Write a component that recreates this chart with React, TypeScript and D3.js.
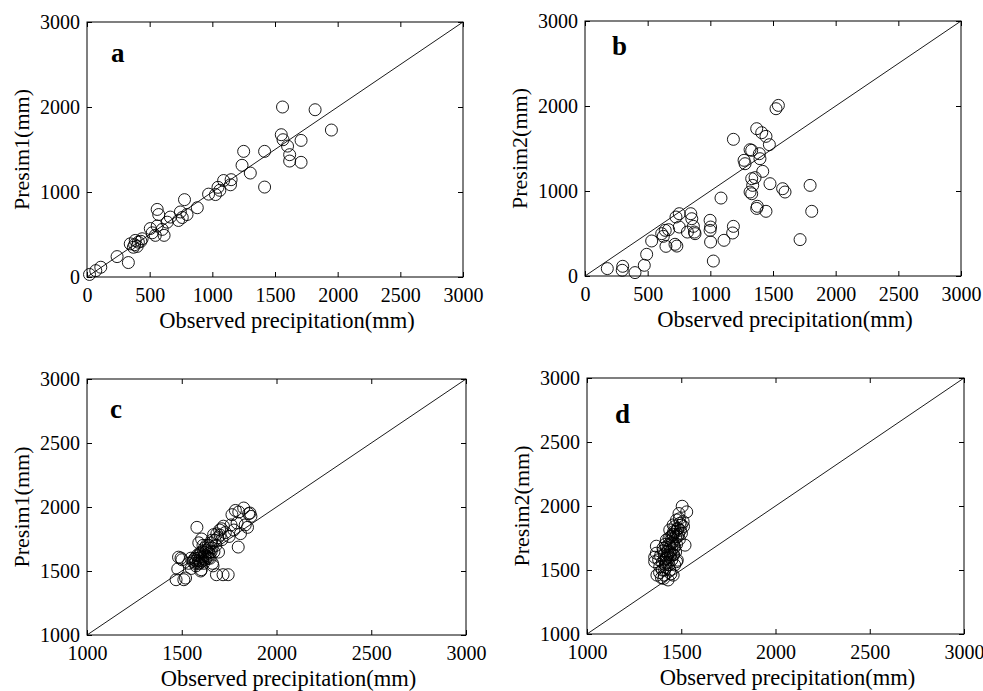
import React, { useEffect, useRef } from 'react';
import * as d3 from 'd3';

// tick values
const ticksAB = [0, 500, 1000, 1500, 2000, 2500, 3000];
const yTicksAB = [0, 1000, 2000, 3000];
const ticksCD = [1000, 1500, 2000, 2500, 3000];

// panel a: observed vs Presim1
const obsA = [20, 70, 110, 240, 330, 345, 370, 385, 410, 440, 380, 400, 430, 505, 520, 545, 560, 615, 560, 572,
  600, 640, 665, 730, 745, 760, 778, 798, 880, 970, 1025, 1045, 1060, 1090, 1150, 1145, 1237, 1250, 1303, 1417,
  1417, 1550, 1564, 1560, 1600, 1617, 1617, 1708, 1708, 1820, 1950];
const simA = [30, 75, 115, 240, 170, 390, 350, 430, 410, 450, 380, 360, 420, 570, 520, 490, 600, 490, 795, 735,
  560, 645, 705, 665, 765, 700, 910, 735, 815, 975, 970, 1055, 1020, 1135, 1145, 1085, 1314, 1478, 1223, 1478,
  1058, 1674, 1615, 2000, 1540, 1439, 1364, 1607, 1349, 1968, 1729];

// panel b: observed vs Presim2
const obsB = [178, 301, 297, 399, 473, 492, 532, 612, 625, 646, 640, 667, 718, 733, 726, 752, 752, 817, 852, 844,
  865, 878, 873, 998, 1002, 998, 1002, 1024, 1085, 1109, 1178, 1184, 1184, 1269, 1277, 1317, 1330, 1391, 1396, 1418,
  1330, 1357, 1338, 1317, 1330, 1476, 1577, 1596, 1796, 1809, 1375, 1370, 1444, 1716, 1370, 1410, 1444, 1471, 1524, 1543];
const simB = [87, 114, 67, 40, 126, 255, 412, 498, 467, 349, 537, 545, 373, 352, 694, 733, 576, 517, 674, 733,
  584, 498, 517, 655, 576, 537, 400, 176, 917, 420, 506, 584, 1608, 1361, 1321, 1486, 1478, 1439, 1380, 1231,
  1145, 1157, 1066, 988, 968, 1086, 1027, 988, 1066, 761, 820, 795, 761, 428, 1733, 1686, 1643, 1545, 1968, 2007];

// panel c: observed vs Presim1
const obsC = [1470, 1479, 1496, 1511, 1520, 1483, 1501, 1536, 1550, 1560, 1570, 1575, 1580, 1590, 1595, 1600, 1603, 1605, 1610, 1612,
  1615, 1620, 1625, 1630, 1635, 1640, 1645, 1650, 1655, 1660, 1662, 1665, 1668, 1670, 1675, 1680, 1683, 1690, 1694, 1700,
  1703, 1712, 1718, 1720, 1730, 1745, 1750, 1760, 1765, 1775, 1783, 1792, 1798, 1801, 1810, 1827, 1835, 1847, 1853, 1860,
  1865, 1585, 1575, 1600, 1620, 1640, 1658, 1685, 1710, 1548, 1590, 1605,
  1565, 1580, 1595, 1610, 1625, 1630, 1645, 1600, 1615, 1585, 1640, 1655, 1570, 1590];
const simC = [1432, 1516, 1601, 1432, 1445, 1608, 1588, 1560, 1520, 1575, 1600, 1540, 1841, 1620, 1560, 1500, 1510, 1650, 1600, 1700,
  1560, 1630, 1590, 1660, 1610, 1700, 1640, 1600, 1720, 1680, 1560, 1540, 1784, 1650, 1740, 1700, 1471, 1760, 1648, 1820,
  1780, 1745, 1471, 1850, 1800, 1471, 1770, 1860, 1940, 1820, 1973, 1875, 1687, 1961, 1792, 1992, 1860, 1841, 1948, 1953,
  1927, 1600, 1580, 1570, 1680, 1650, 1740, 1790, 1830, 1600, 1720, 1750,
  1590, 1620, 1640, 1580, 1620, 1700, 1680, 1610, 1650, 1560, 1600, 1650, 1560, 1580];

// panel d: observed vs Presim2
const obsD = [1368, 1371, 1407, 1430, 1457, 1395, 1386, 1359, 1368, 1359, 1403, 1421, 1520, 1505, 1529, 1488, 1479, 1475, 1493, 1510,
  1457, 1439, 1501, 1448, 1457, 1483, 1466, 1430, 1457, 1421, 1412, 1439, 1475, 1380, 1390, 1400, 1410, 1415, 1420, 1425,
  1430, 1435, 1440, 1445, 1450, 1455, 1460, 1465, 1470, 1475, 1480, 1485, 1490, 1495, 1500, 1400, 1385, 1410, 1445, 1465,
  1420, 1440, 1450, 1460, 1470, 1405, 1415, 1435, 1490, 1512,
  1420, 1430, 1440, 1450, 1460, 1470, 1410, 1425, 1435, 1445, 1455, 1480];
const simD = [1686, 1460, 1434, 1422, 1460, 1440, 1526, 1565, 1631, 1600, 1670, 1735, 1694, 1998, 1954, 1941, 1577, 1891, 1865, 1878,
  1852, 1813, 1787, 1708, 1774, 1826, 1839, 1650, 1617, 1591, 1500, 1500, 1565, 1580, 1610, 1560, 1620, 1540, 1680, 1600,
  1560, 1700, 1640, 1760, 1580, 1720, 1800, 1680, 1760, 1700, 1820, 1780, 1740, 1810, 1850, 1500, 1480, 1460, 1470, 1540,
  1520, 1600, 1660, 1620, 1640, 1650, 1700, 1750, 1900, 1840,
  1560, 1620, 1680, 1740, 1700, 1800, 1580, 1640, 1540, 1620, 1780, 1760];

const panels = [
  { letter: 'a', left: 87, top: 22, width: 376, height: 255, min: 0, xTicks: ticksAB, yTicks: yTicksAB, ylabel: 'Presim1(mm)', obs: obsA, sim: simA, lx: 24, ly: 40 },
  { letter: 'b', left: 585, top: 21, width: 376, height: 255, min: 0, xTicks: ticksAB, yTicks: yTicksAB, ylabel: 'Presim2(mm)', obs: obsB, sim: simB, lx: 27, ly: 34 },
  { letter: 'c', left: 87, top: 379, width: 379, height: 256, min: 1000, xTicks: ticksCD, yTicks: ticksCD, ylabel: 'Presim1(mm)', obs: obsC, sim: simC, lx: 23, ly: 39 },
  { letter: 'd', left: 587, top: 378, width: 377, height: 256, min: 1000, xTicks: ticksCD, yTicks: ticksCD, ylabel: 'Presim2(mm)', obs: obsD, sim: simD, lx: 28, ly: 45 },
];

const FONT = '"Liberation Serif", "Times New Roman", serif';

export default function App() {
  const ref = useRef<SVGSVGElement | null>(null);

  useEffect(() => {
    const root = d3.select(ref.current);
    root.selectAll('*').remove();

    panels.forEach(p => {
      const g = root.append('g').attr('transform', `translate(${p.left},${p.top})`);
      const x = d3.scaleLinear().domain([p.min, 3000]).range([0, p.width]);
      const y = d3.scaleLinear().domain([p.min, 3000]).range([p.height, 0]);

      // 1:1 line
      g.append('line')
        .attr('x1', x(p.min)).attr('y1', y(p.min))
        .attr('x2', x(3000)).attr('y2', y(3000))
        .attr('stroke', '#000').attr('stroke-width', 0.9);

      // points
      g.selectAll('circle.pt')
        .data(p.obs.map((o, i) => [o, p.sim[i]]))
        .enter().append('circle')
        .attr('class', 'pt')
        .attr('cx', d => x(d[0]))
        .attr('cy', d => y(d[1]))
        .attr('r', 6)
        .attr('fill', 'none')
        .attr('stroke', '#000')
        .attr('stroke-width', 0.9);

      const bottom = g.append('g').attr('transform', `translate(0,${p.height})`)
        .call(d3.axisBottom(x).tickValues(p.xTicks).tickSizeInner(-5).tickSizeOuter(0).tickPadding(11).tickFormat(d3.format('d')));
      const left = g.append('g')
        .call(d3.axisLeft(y).tickValues(p.yTicks).tickSizeInner(-5).tickSizeOuter(0).tickPadding(7).tickFormat(d3.format('d')));
      g.append('g')
        .call(d3.axisTop(x).tickValues(p.xTicks).tickSizeInner(-5).tickSizeOuter(0).tickFormat(() => ''));
      g.append('g').attr('transform', `translate(${p.width},0)`)
        .call(d3.axisRight(y).tickValues(p.yTicks).tickSizeInner(-5).tickSizeOuter(0).tickFormat(() => ''));

      [bottom, left].forEach(a => a.selectAll('text')
        .style('font-family', FONT).style('font-size', '20px').attr('fill', '#000'));
      g.selectAll('.domain').remove();

      g.append('rect')
        .attr('width', p.width).attr('height', p.height)
        .attr('fill', 'none').attr('stroke', '#000').attr('stroke-width', 1);

      g.append('text')
        .attr('x', p.lx).attr('y', p.ly)
        .style('font-family', FONT).style('font-size', '27px').style('font-weight', 'bold')
        .text(p.letter);

      g.append('text')
        .attr('x', p.width / 2 + 12).attr('y', p.height + 51)
        .attr('text-anchor', 'middle')
        .style('font-family', FONT).style('font-size', '22.5px')
        .text('Observed precipitation(mm)');

      g.append('text')
        .attr('transform', `translate(-58,${p.height / 2}) rotate(-90)`)
        .attr('text-anchor', 'middle')
        .style('font-family', FONT).style('font-size', '22px')
        .text(p.ylabel);
    });
  }, []);

  return (
    <svg ref={ref} width={983} height={691}
      style={{ position: 'absolute', left: 0, top: 0, background: '#fff' }} />
  );
}
